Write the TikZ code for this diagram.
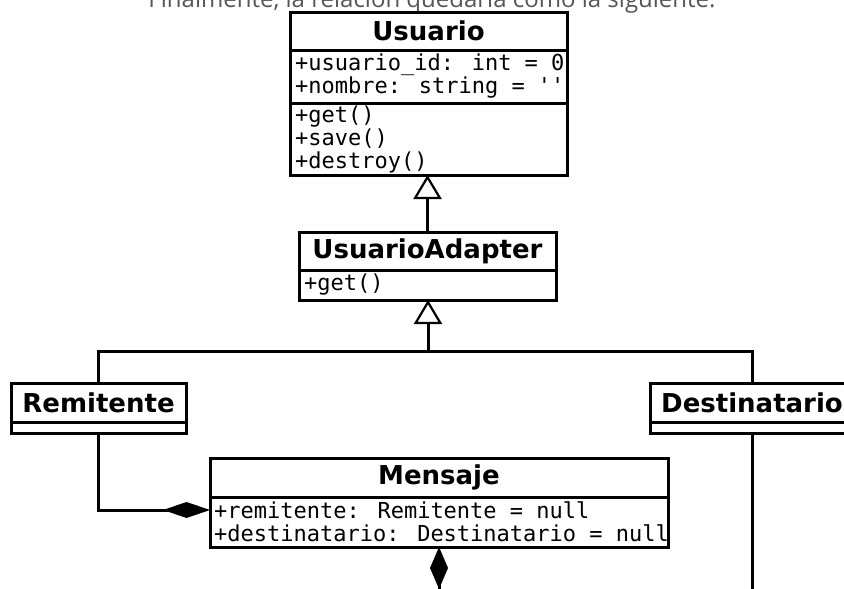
\documentclass[tikz,border=0pt]{standalone}
\usepackage{fontspec}
\newfontfamily\umlsans{DejaVu Sans}
\newfontfamily\umlmono{DejaVu Sans Mono}[Ligatures=TeXOff]
\newfontfamily\introfont{Open Sans}
\usepackage{tikz}
\usetikzlibrary{positioning}
\usetikzlibrary{arrows.meta}

\definecolor{gristexto}{HTML}{555555}

\tikzset{
  cabecera/.style={draw, line width=3pt, anchor=north west, inner sep=0pt, outer sep=0pt,
    font=\umlsans\bfseries\fontsize{26}{28}\selectfont},
  compart/.style={draw, line width=3pt, anchor=north west, inner sep=0pt, outer sep=0pt},
  miembros/.style={anchor=west, align=left, inner xsep=5pt, inner ysep=0pt,
    font=\umlmono\fontsize{22}{23}\selectfont},
  linea/.style={line width=3pt},
  hereda/.style={linea, -{Triangle[open, length=24pt, width=28pt, line width=2.2pt]}},
  compone/.style={linea, {Diamond[length=47pt, width=16pt]}-}
}

\begin{document}
\begin{tikzpicture}[x=1pt, y=-1pt]
    \useasboundingbox (0,0) rectangle (844,589);
    \clip (0,0) rectangle (844,589);

    % Text above the diagram
    \node[anchor=base, text=gristexto, font=\introfont\fontsize{24}{26}\selectfont] (intro) at (432,7)
        {Finalmente, la relación quedaría como la siguiente.};

    % Usuario
    \node[cabecera, minimum width=277pt, minimum height=38pt] (usuario) at (290,12) {Usuario};
    \node[compart, minimum width=277pt, minimum height=53pt] (usuattr) at (usuario.south west) {};
    \node[miembros] (usuattrtxt) at (usuattr.west) {+usuario\_id: int = 0\\+nombre: string = ''};
    \node[compart, minimum width=277pt, minimum height=72pt] (usumet) at (usuattr.south west) {};
    \node[miembros] (usumettxt) at (usumet.west) {+get()\\+save()\\+destroy()};

    % UsuarioAdapter
    \node[cabecera, minimum width=257pt, minimum height=38pt] (adapter) at (299,232) {UsuarioAdapter};
    \node[compart, minimum width=257pt, minimum height=30pt] (adapmet) at (adapter.south west) {};
    \node[miembros] (adapmettxt) at (adapmet.west) {+get()};

    % Remitente and Destinatario
    \node[cabecera, minimum width=175pt, minimum height=39pt] (remitente) at (11,383) {Remitente};
    \node[compart, minimum width=175pt, minimum height=11pt] (remiattr) at (remitente.south west) {};
    \node[cabecera, minimum width=204pt, minimum height=39pt] (destinatario) at (650,383) {Destinatario};
    \node[compart, minimum width=204pt, minimum height=11pt] (destattr) at (destinatario.south west) {};

    % Mensaje
    \node[cabecera, minimum width=458pt, minimum height=39pt] (mensaje) at (210,458) {Mensaje};
    \node[compart, minimum width=458pt, minimum height=50pt] (mensattr) at (mensaje.south west) {};
    \node[miembros, inner xsep=4pt] (mensattrtxt) at (mensattr.west)
        {+remitente: Remitente = null\\+destinatario: Destinatario = null};

    % Define the coordinates of the points
    \coordinate (rama) at (428,351);
    \coordinate (abajo) at (0,600);

    % Draw the lines
    \draw[hereda] (adapter.north) -- (adapter.north |- usumet.south);
    \draw[linea] (remitente.north) |- (rama) -| (destinatario.north);
    \draw[hereda] (rama) -- (rama |- adapmet.south);
    \draw[compone] ([yshift=-13pt]mensattr.north west) -| (remiattr.south);
    \draw[compone, {Diamond[length=42pt, width=18pt]}-] (mensattr.south) -- (mensattr.south |- abajo);
    \draw[linea] (destattr.south) -- (destattr.south |- abajo);
\end{tikzpicture}
\end{document}
